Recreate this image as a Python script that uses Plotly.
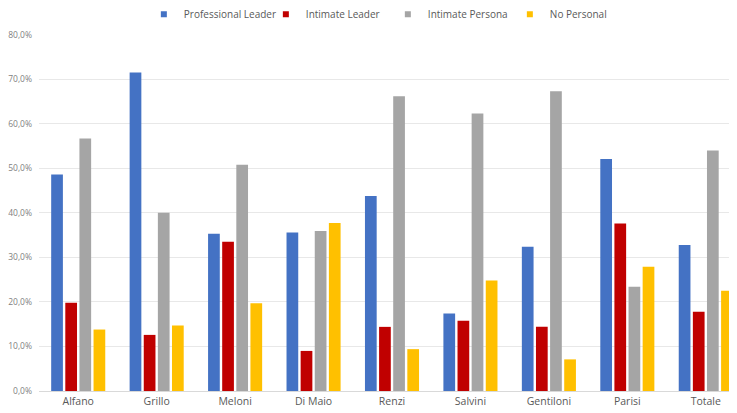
import plotly.graph_objects as go

categories = ["Alfano", "Grillo", "Meloni", "Di Maio", "Renzi", "Salvini", "Gentiloni", "Parisi", "Totale"]
professional_leader = [48.6, 71.5, 35.3, 35.6, 43.8, 17.4, 32.4, 52.1, 32.8]
intimate_leader = [19.8, 12.6, 33.5, 9.0, 14.4, 15.8, 14.4, 37.6, 17.8]
intimate_persona = [56.7, 40.0, 50.8, 35.9, 66.2, 62.3, 67.3, 23.4, 54.0]
no_personal = [13.8, 14.7, 19.7, 37.7, 9.4, 24.8, 7.1, 27.9, 22.5]

series = [
    ("Professional Leader", professional_leader, "#4472C4"),
    ("Intimate Leader", intimate_leader, "#C00000"),
    ("Intimate Persona", intimate_persona, "#A5A5A5"),
    ("No Personal", no_personal, "#FFC000"),
]

tick_vals = [0, 10, 20, 30, 40, 50, 60, 70, 80]
tick_text = ["0,0%", "10,0%", "20,0%", "30,0%", "40,0%", "50,0%", "60,0%", "70,0%", "80,0%"]

fig = go.Figure()
for name, vals, color in series:
    fig.add_trace(go.Bar(x=categories, y=vals, name=name, marker_color=color,
                         marker_line_width=0, showlegend=False, legendgroup=name))
for name, vals, color in series:
    fig.add_trace(go.Scatter(x=[None], y=[None], mode="markers", name=name,
                             legendgroup=name,
                             marker=dict(symbol="square", size=6, color=color)))

fig.update_layout(
    width=737, height=413,
    margin=dict(l=29, r=0, t=25, b=30),
    plot_bgcolor="white", paper_bgcolor="white",
    barmode="group", bargap=0.28, bargroupgap=0.17,
    font=dict(family="Open Sans", size=9, color="#595959"),
    legend=dict(orientation="h", xref="container", yref="container",
                x=0.5154, xanchor="center", y=0.985, yanchor="middle",
                font=dict(size=10, color="#595959"), itemwidth=30,
                entrywidth=77, tracegroupgap=0),
    showlegend=True,
)
fig.update_yaxes(range=[0, 80], tickvals=tick_vals, ticktext=tick_text,
                 showgrid=True, gridcolor="#E8E8E8", gridwidth=1,
                 zeroline=False, tickfont=dict(size=8.5, color="#7F7F7F"),
                 ticks="", showline=False, ticklabelstandoff=6)
fig.update_xaxes(showline=True, linecolor="#D9D9D9", linewidth=1,
                 tickfont=dict(size=10.5, color="#595959"), ticks="")

fig.write_html("out.html")
